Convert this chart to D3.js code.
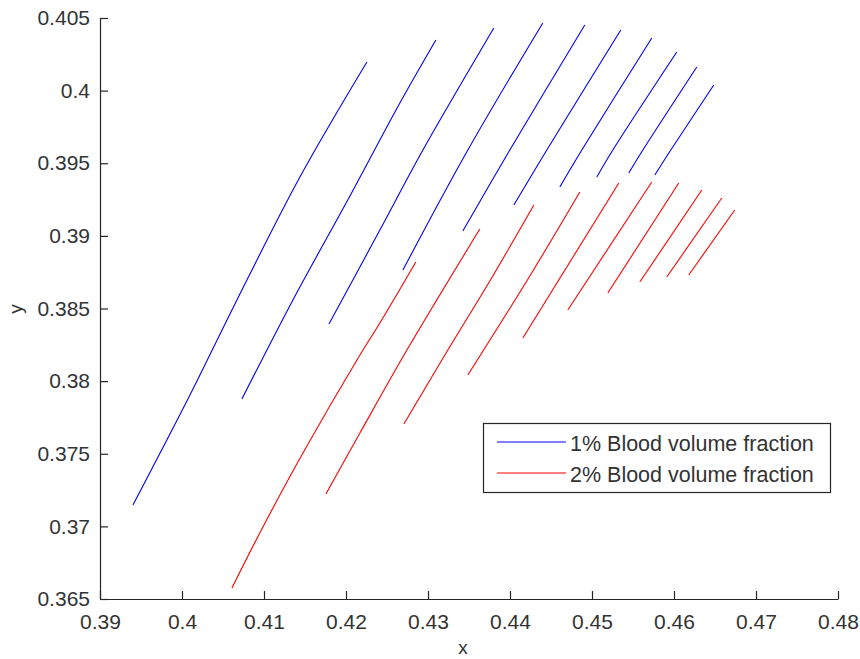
<!DOCTYPE html>
<html>
<head>
<meta charset="utf-8">
<script src="https://cdn.jsdelivr.net/npm/d3@7"></script>
<style>
  body { margin: 0; background: #fff; }
  text { font-family: "Liberation Sans", Arial, sans-serif; fill: #333; }
</style>
</head>
<body>
<div id="chart"></div>
<script>
// tick values
const xTicks = [0.39, 0.40, 0.41, 0.42, 0.43, 0.44, 0.45, 0.46, 0.47, 0.48];
const yTicks = [0.365, 0.37, 0.375, 0.38, 0.385, 0.39, 0.395, 0.40, 0.405];

// 1% blood volume fraction curves (x and y per curve)
const blueX = [
    [0.39402, 0.40097, 0.40658, 0.41438, 0.42255],
    [0.40731, 0.41353, 0.42048, 0.42657, 0.43096],
    [0.41792, 0.42413, 0.42938, 0.43803],
    [0.42694, 0.43486, 0.44400],
    [0.43425, 0.43998, 0.44912],
    [0.44047, 0.44449, 0.45351],
    [0.44608, 0.44876, 0.45729],
    [0.45059, 0.45254, 0.46034],
    [0.45449, 0.45620, 0.46278],
    [0.45766, 0.45961, 0.46485]
];
const blueY = [
    [0.37147, 0.37904, 0.38545, 0.39405, 0.40197],
    [0.37877, 0.38559, 0.39275, 0.39915, 0.40349],
    [0.38393, 0.39040, 0.39591, 0.40431],
    [0.38765, 0.39591, 0.40466],
    [0.39034, 0.39591, 0.40452],
    [0.39213, 0.39591, 0.40417],
    [0.39337, 0.39591, 0.40362],
    [0.39405, 0.39591, 0.40266],
    [0.39433, 0.39591, 0.40163],
    [0.39419, 0.39591, 0.40039]
];

// 2% blood volume fraction curves
const redX = [
    [0.40609, 0.40987, 0.41475, 0.42170, 0.42413, 0.42852],
    [0.41755, 0.42170, 0.42743, 0.43632],
    [0.42706, 0.43242, 0.43754, 0.44291],
    [0.43486, 0.44242, 0.44852],
    [0.44157, 0.45327],
    [0.44705, 0.45729],
    [0.45193, 0.46058],
    [0.45583, 0.46339],
    [0.45912, 0.46583],
    [0.46180, 0.46741]
];
const redY = [
    [0.36576, 0.36996, 0.37505, 0.38180, 0.38400, 0.38820],
    [0.37223, 0.37643, 0.38214, 0.39047],
    [0.37705, 0.38214, 0.38689, 0.39213],
    [0.38042, 0.38724, 0.39302],
    [0.38297, 0.39364],
    [0.38490, 0.39371],
    [0.38607, 0.39364],
    [0.38682, 0.39316],
    [0.38717, 0.39261],
    [0.38731, 0.39178]
];

const legendLabels = ["1% Blood volume fraction", "2% Blood volume fraction"];
const seriesColors = ["#0000ff", "#ff0000"];

const W = 860, H = 659;
const plot = { left: 100, right: 838, top: 18, bottom: 599 };

const svg = d3.select("#chart").append("svg")
    .attr("width", W)
    .attr("height", H);

const x = d3.scaleLinear().domain([0.39, 0.48]).range([plot.left, plot.right]);
const y = d3.scaleLinear().domain([0.365, 0.405]).range([plot.bottom, plot.top]);

const fmt = d => String(+d.toFixed(3));

// axes, ticks pointing inward like matlab
const xAxis = svg.append("g")
    .attr("transform", `translate(0,${plot.bottom})`)
    .call(d3.axisBottom(x).tickValues(xTicks).tickFormat(fmt).tickSizeInner(-8).tickSizeOuter(0).tickPadding(15));
const yAxis = svg.append("g")
    .attr("transform", `translate(${plot.left},0)`)
    .call(d3.axisLeft(y).tickValues(yTicks).tickFormat(fmt).tickSizeInner(-8).tickSizeOuter(0).tickPadding(10));

[xAxis, yAxis].forEach(g => {
    g.select(".domain").attr("stroke", "#262626").attr("stroke-width", 1.2);
    g.selectAll(".tick line").attr("stroke", "#262626").attr("stroke-width", 1.2);
    g.selectAll(".tick text")
        .style("font-family", '"Liberation Sans", Arial, sans-serif')
        .style("font-size", "21px")
        .attr("fill", "#333");
});

// axis labels
svg.append("text")
    .attr("x", 463).attr("y", 654)
    .attr("text-anchor", "middle")
    .style("font-size", "19px")
    .text("x");
svg.append("text")
    .attr("transform", "translate(22,309) rotate(-90)")
    .attr("text-anchor", "middle")
    .style("font-size", "19px")
    .text("y");

// curves
const line = d3.line().curve(d3.curveCatmullRom).x(d => x(d[0])).y(d => y(d[1]));

function drawSeries(xs, ys, color) {
    xs.forEach((cx, i) => {
        const pts = cx.map((v, j) => [v, ys[i][j]]);
        svg.append("path")
            .datum(pts)
            .attr("d", line)
            .attr("fill", "none")
            .attr("stroke", color)
            .attr("stroke-width", 1.1);
    });
}
drawSeries(blueX, blueY, seriesColors[0]);
drawSeries(redX, redY, seriesColors[1]);

// legend
const legend = svg.append("g");
legend.append("rect")
    .attr("x", 483.5).attr("y", 423.5)
    .attr("width", 347).attr("height", 69)
    .attr("fill", "#fff")
    .attr("stroke", "#262626")
    .attr("stroke-width", 1.2);

legendLabels.forEach((lab, i) => {
    const ly = 442 + i * 31;
    legend.append("line")
        .attr("x1", 497).attr("x2", 566)
        .attr("y1", ly).attr("y2", ly)
        .attr("stroke", seriesColors[i])
        .attr("stroke-width", 1.2);
    legend.append("text")
        .attr("x", 570).attr("y", ly + 9)
        .style("font-size", "21.5px")
        .text(lab);
});
</script>
</body>
</html>
